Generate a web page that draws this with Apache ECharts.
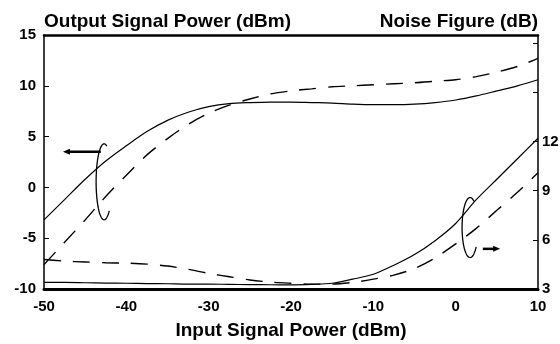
<!DOCTYPE html>
<html>
<head>
<meta charset="utf-8">
<script src="https://cdn.jsdelivr.net/npm/echarts@6/dist/echarts.min.js"></script>
<style>
html, body { margin: 0; padding: 0; background: #fff; }
#chart { width: 560px; height: 344px; }
</style>
</head>
<body>
<div id="chart"></div>
<script>
// input signal power (dBm), common x for all curves
var inputPower = [-50, -47.5, -45, -42.5, -40, -37.5, -35, -32.5, -30, -27.5, -25, -22.5, -20,
    -17.5, -15, -12.5, -10, -7.5, -5, -2.5, 0, 2.5, 5, 7.5, 10];
// output signal power (dBm), left axis
var outputSolid = [-3.2, -1.2, 0.8, 2.6, 4.1, 5.5, 6.6, 7.4, 7.95, 8.25, 8.35, 8.4, 8.4,
    8.35, 8.3, 8.2, 8.15, 8.15, 8.2, 8.35, 8.6, 9.0, 9.5, 10.0, 10.6];
var outputDashed = [-7.6, -5.4, -3.2, -0.9, 1.2, 3.2, 4.8, 6.2, 7.3, 8.1, 8.7, 9.2, 9.5,
    9.7, 9.9, 10.0, 10.1, 10.2, 10.3, 10.45, 10.6, 10.9, 11.35, 11.9, 12.7];
// noise figure (dB), right axis
var noiseSolid = [3.4, 3.4, 3.38, 3.36, 3.35, 3.33, 3.32, 3.3, 3.3, 3.28, 3.27, 3.26, 3.25,
    3.28, 3.35, 3.6, 3.9, 4.45, 5.1, 5.95, 7.0, 8.45, 9.7, 10.95, 12.2];
var noiseDashed = [4.8, 4.7, 4.65, 4.6, 4.58, 4.52, 4.4, 4.2, 3.95, 3.75, 3.55, 3.42, 3.35,
    3.3, 3.3, 3.4, 3.6, 3.85, 4.25, 4.9, 5.75, 6.7, 7.8, 8.9, 10.1];

var font = 'Liberation Sans';

function pairs(ys) {
    return inputPower.map(function (x, i) { return [x, ys[i]]; });
}

function curve(name, ys, axis, dashed) {
    return {
        name: name,
        type: 'line',
        yAxisIndex: axis,
        data: pairs(ys),
        smooth: 0.3,
        symbol: 'none',
        silent: true,
        lineStyle: {color: '#000', width: dashed ? 1.4 : 1.2, type: dashed ? [17, 12] : 'solid'}
    };
}

var myChart = echarts.init(document.getElementById('chart'));
var labelStyle = {color: '#000', fontFamily: font, fontWeight: 'bold', fontSize: 15};

var option = {
    animation: false,
    grid: {left: 44, right: 22, top: 35, bottom: 55, outerBoundsMode: 'none', containLabel: false},
    xAxis: [{
        type: 'value', min: -50, max: 10, interval: 10, position: 'bottom',
        axisLine: {onZero: false, lineStyle: {color: '#000', width: 3}},
        axisTick: {show: false},
        splitLine: {show: false},
        axisLabel: Object.assign({margin: 10}, labelStyle),
        name: 'Input Signal Power (dBm)', nameLocation: 'middle', nameGap: 32,
        nameTextStyle: {color: '#000', fontFamily: font, fontWeight: 'bold', fontSize: 19}
    }, {
        type: 'value', min: -50, max: 10, position: 'top',
        axisLine: {onZero: false, lineStyle: {color: '#000', width: 2.5}},
        axisTick: {show: false}, axisLabel: {show: false}, splitLine: {show: false}
    }],
    yAxis: [{
        type: 'value', min: -10, max: 15, interval: 5, position: 'left',
        axisLine: {show: true, onZero: false, lineStyle: {color: '#000', width: 1.5}},
        axisTick: {show: true, inside: true, length: 5, lineStyle: {color: '#000'}},
        splitLine: {show: false},
        axisLabel: Object.assign({margin: 8}, labelStyle),
        name: 'Output Signal Power (dBm)', nameLocation: 'end', nameGap: 4,
        nameTextStyle: {color: '#000', fontFamily: font, fontWeight: 'bold', fontSize: 19, align: 'left'}
    }, {
        type: 'value', min: 3, max: 18.5, interval: 3, position: 'right',
        axisLine: {show: true, onZero: false, lineStyle: {color: '#000', width: 1.5}},
        axisTick: {show: true, inside: true, length: 5, lineStyle: {color: '#000'}},
        splitLine: {show: false},
        axisLabel: Object.assign({margin: 4, formatter: function (v) { return v <= 12 ? v : ''; }}, labelStyle),
        name: 'Noise Figure (dB)', nameLocation: 'end', nameGap: 4,
        nameTextStyle: {color: '#000', fontFamily: font, fontWeight: 'bold', fontSize: 19, align: 'right'}
    }],
    series: [
        curve('Output solid', outputSolid, 0, false),
        curve('Output dashed', outputDashed, 0, true),
        curve('NF solid', noiseSolid, 1, false),
        curve('NF dashed', noiseDashed, 1, true)
    ]
};
myChart.setOption(option);

// loops and arrows that tie each curve pair to its axis
function px(x, y, axis) {
    return myChart.convertToPixel({xAxisIndex: 0, yAxisIndex: axis}, [x, y]);
}
function loop(c, rx, ry, a0, a1) {
    var pts = [];
    for (var a = a0; a <= a1; a += 5) {
        var t = a * Math.PI / 180;
        pts.push([c[0] + rx * Math.cos(t), c[1] + ry * Math.sin(t)]);
    }
    return {type: 'polyline', shape: {points: pts}, style: {stroke: '#000', lineWidth: 1.3, fill: null}, silent: true};
}
function arrow(from, to) {
    var dir = to[0] > from[0] ? 1 : -1;
    return [{
        type: 'line', shape: {x1: from[0], y1: from[1], x2: to[0] - dir * 5, y2: to[1]},
        style: {stroke: '#000', lineWidth: 2.5}, silent: true
    }, {
        type: 'polygon', shape: {points: [[to[0], to[1]], [to[0] - dir * 7, to[1] - 3], [to[0] - dir * 7, to[1] + 3]]},
        style: {fill: '#000'}, silent: true
    }];
}

var leftLoop = px(-42.7, 0.55, 0);
var rightLoop = px(1.75, 6.75, 1);
var graphics = [
    loop(leftLoop, 8, 38, 50, 290),
    loop(rightLoop, 8, 30, 40, 300)
];
graphics = graphics.concat(arrow(px(-43.1, 3.5, 0), px(-47.7, 3.5, 0)));
graphics = graphics.concat(arrow(px(3.3, 5.45, 1), px(5.4, 5.45, 1)));
myChart.setOption({graphic: graphics});
</script>
</body>
</html>
